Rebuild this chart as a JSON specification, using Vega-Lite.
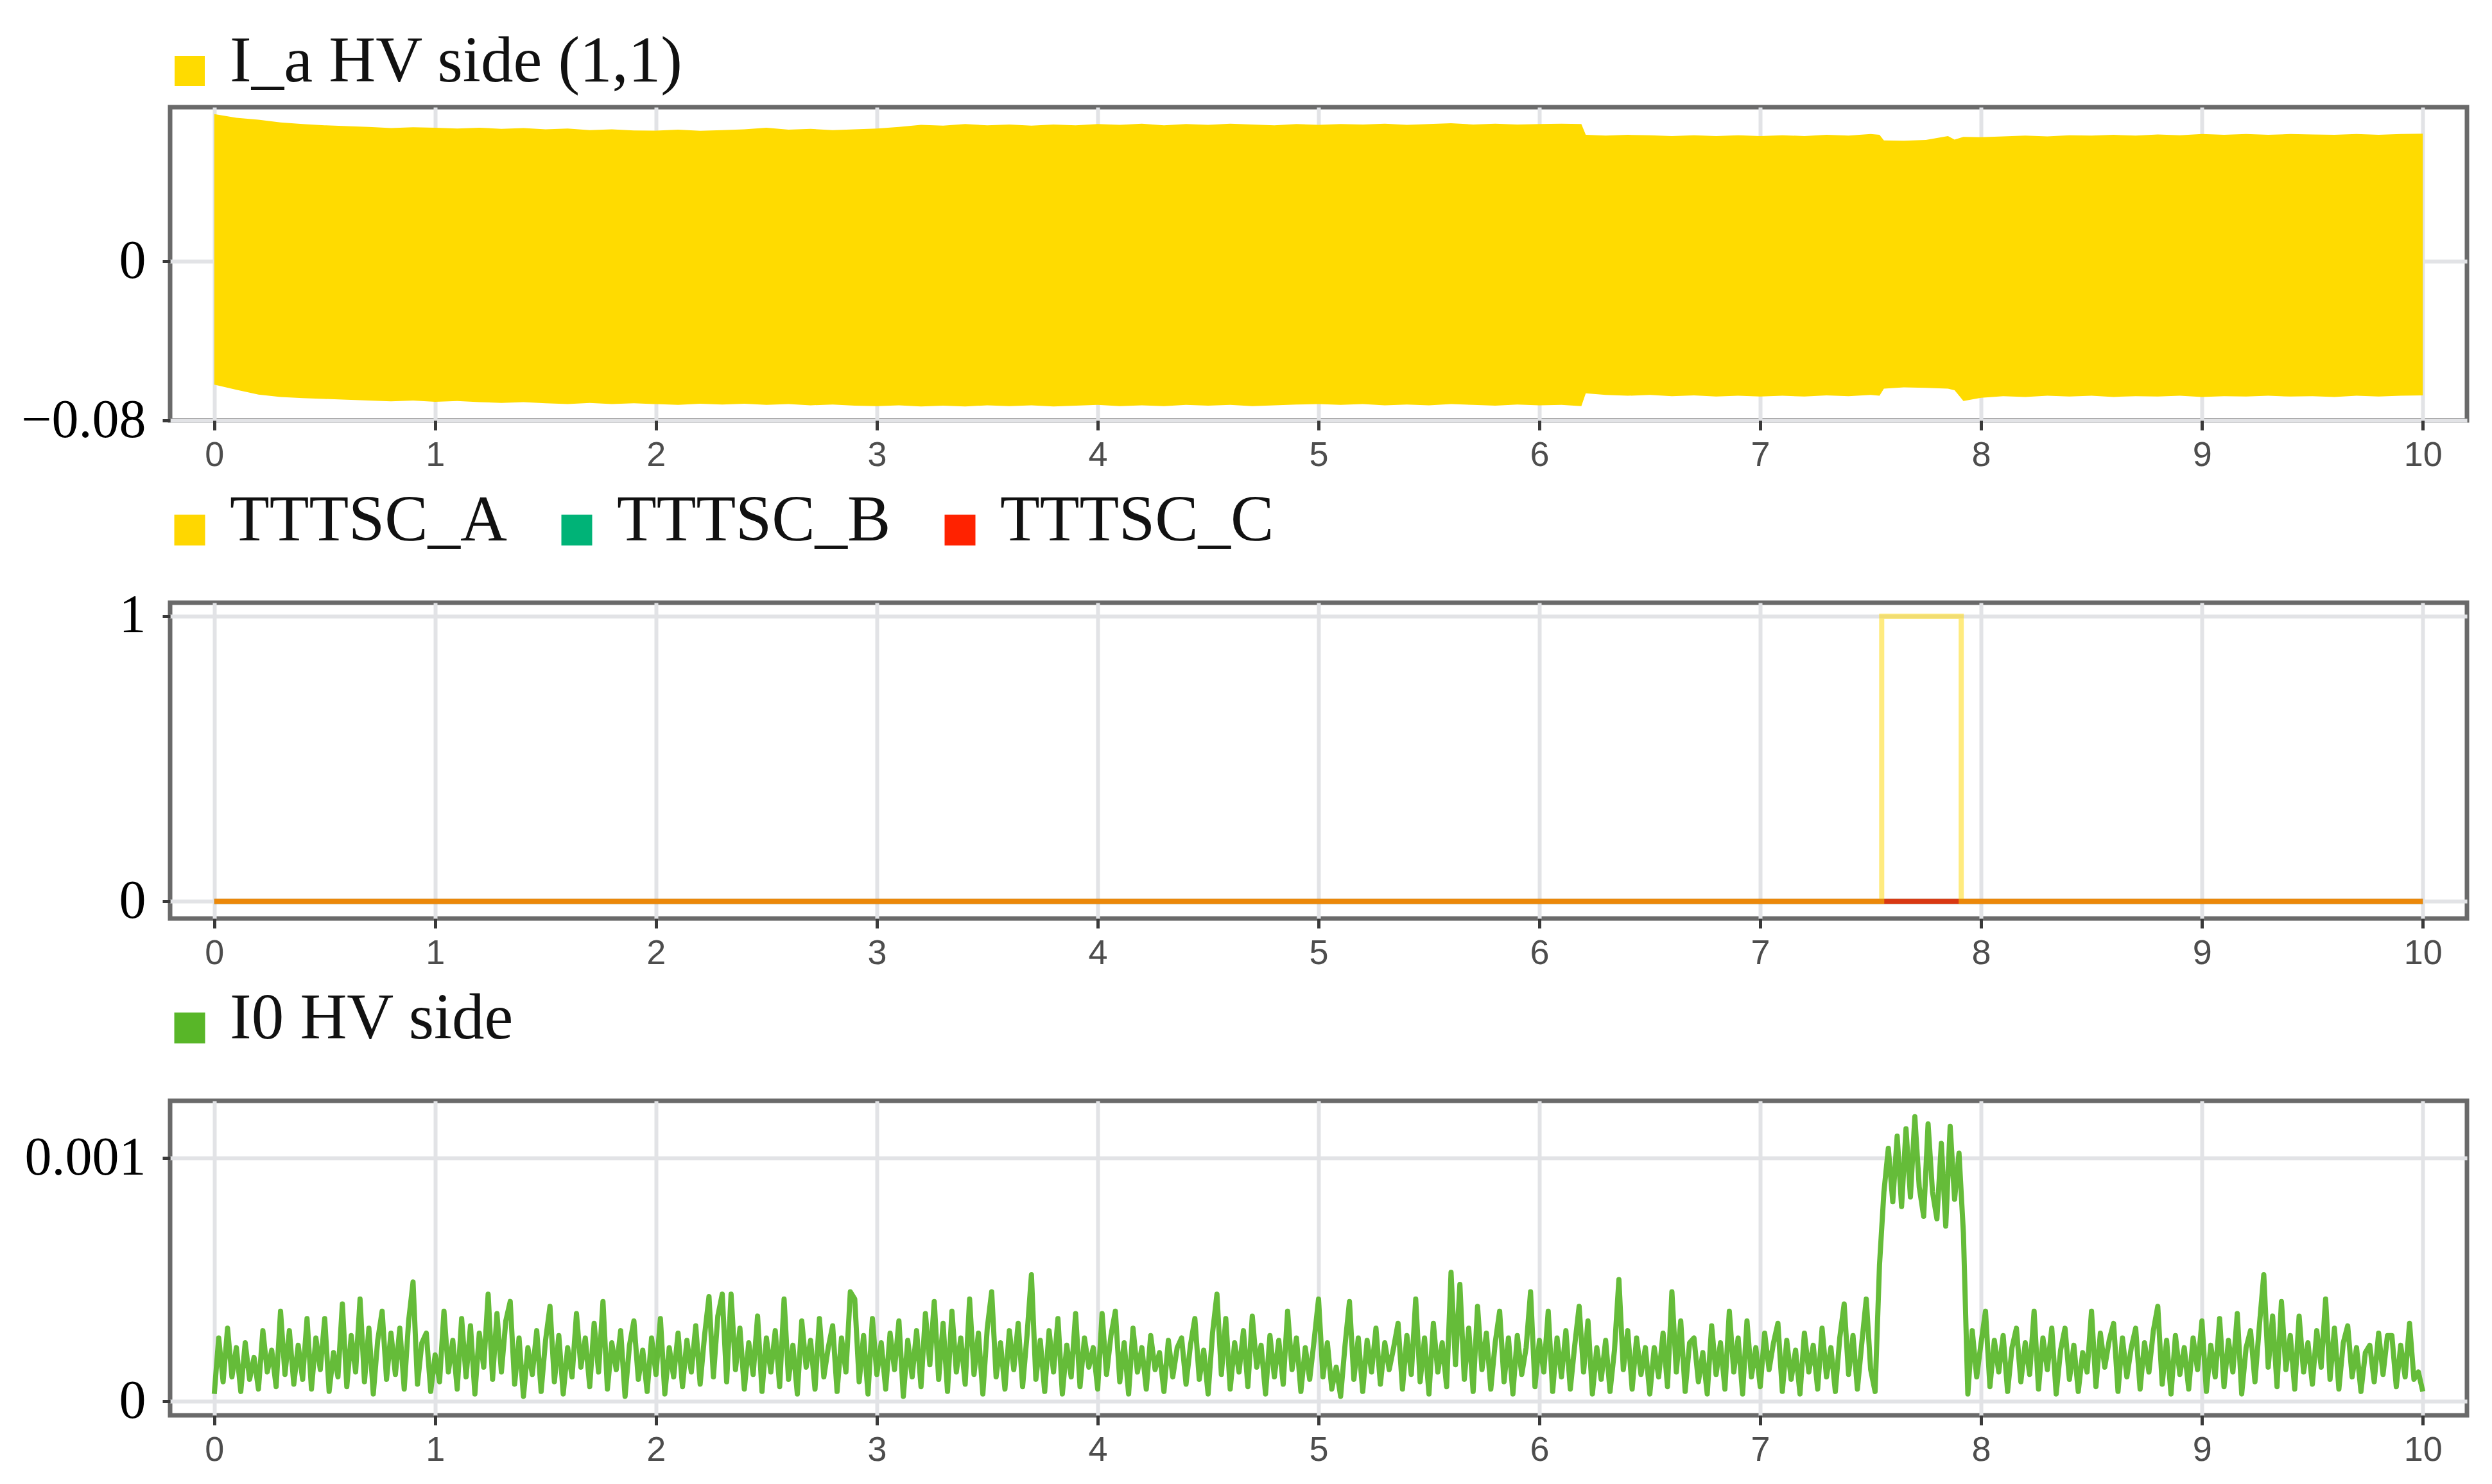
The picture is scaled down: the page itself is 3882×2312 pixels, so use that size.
{
"$schema": "https://vega.github.io/schema/vega-lite/v6.json",
"background": "white",
"padding": {"top": 56, "left": 29, "right": 10, "bottom": 10},
"bounds": "flush",
"spacing": 284,
"resolve": {"scale": {"color": "independent", "x": "independent", "y": "independent"}, "legend": {"color": "independent"}},
"config": {
  "view": {"stroke": "#6a6a6a", "strokeWidth": 7},
  "font": "Liberation Serif",
  "axis": {"grid": true, "gridColor": "#e2e3e6", "gridWidth": 6, "domain": false, "tickColor": "#3a3a3a", "tickWidth": 5, "title": null},
  "axisX": {"labelFont": "Liberation Sans", "labelFontSize": 54, "labelColor": "#4d4d4d", "tickSize": 15, "labelPadding": 12},
  "axisY": {"labelFont": "Liberation Serif", "labelFontSize": 84, "labelColor": "#000000", "tickSize": 12, "labelPadding": 26, "labelLimit": 1000}
},
"vconcat": [
{
  "width": 3578, "height": 488,
  "data": {"values": [
{"t":0,"hi":0.0740,"lo":-0.0620},{"t":0.1,"hi":0.0722,"lo":-0.0646},{"t":0.2,"hi":0.0712,"lo":-0.0670},{"t":0.3,"hi":0.0698,"lo":-0.0682},{"t":0.4,"hi":0.0690,"lo":-0.0688},{"t":0.5,"hi":0.0684,"lo":-0.0692},{"t":0.6,"hi":0.0680,"lo":-0.0696},{"t":0.7,"hi":0.0676,"lo":-0.0700},{"t":0.8,"hi":0.0670,"lo":-0.0704},{"t":0.9,"hi":0.0674,"lo":-0.0700},
{"t":1.0,"hi":0.0672,"lo":-0.0706},{"t":1.1,"hi":0.0668,"lo":-0.0702},{"t":1.2,"hi":0.0672,"lo":-0.0708},{"t":1.3,"hi":0.0666,"lo":-0.0712},{"t":1.4,"hi":0.0670,"lo":-0.0708},{"t":1.5,"hi":0.0664,"lo":-0.0714},{"t":1.6,"hi":0.0668,"lo":-0.0718},{"t":1.7,"hi":0.0660,"lo":-0.0712},{"t":1.8,"hi":0.0664,"lo":-0.0718},{"t":1.9,"hi":0.0658,"lo":-0.0714},
{"t":2.0,"hi":0.0657,"lo":-0.0718},{"t":2.1,"hi":0.0662,"lo":-0.0722},{"t":2.2,"hi":0.0656,"lo":-0.0716},{"t":2.3,"hi":0.0660,"lo":-0.0720},{"t":2.4,"hi":0.0664,"lo":-0.0716},{"t":2.5,"hi":0.0672,"lo":-0.0722},{"t":2.6,"hi":0.0662,"lo":-0.0718},{"t":2.7,"hi":0.0666,"lo":-0.0724},{"t":2.8,"hi":0.0660,"lo":-0.0720},{"t":2.9,"hi":0.0664,"lo":-0.0726},
{"t":3.0,"hi":0.0668,"lo":-0.0728},{"t":3.1,"hi":0.0676,"lo":-0.0724},{"t":3.2,"hi":0.0686,"lo":-0.0730},{"t":3.3,"hi":0.0682,"lo":-0.0726},{"t":3.4,"hi":0.0690,"lo":-0.0730},{"t":3.5,"hi":0.0684,"lo":-0.0724},{"t":3.6,"hi":0.0688,"lo":-0.0728},{"t":3.7,"hi":0.0682,"lo":-0.0724},{"t":3.8,"hi":0.0688,"lo":-0.0730},{"t":3.9,"hi":0.0684,"lo":-0.0726},
{"t":4.0,"hi":0.0690,"lo":-0.0722},{"t":4.1,"hi":0.0686,"lo":-0.0728},{"t":4.2,"hi":0.0692,"lo":-0.0724},{"t":4.3,"hi":0.0684,"lo":-0.0728},{"t":4.4,"hi":0.0690,"lo":-0.0722},{"t":4.5,"hi":0.0686,"lo":-0.0726},{"t":4.6,"hi":0.0692,"lo":-0.0722},{"t":4.7,"hi":0.0688,"lo":-0.0728},{"t":4.8,"hi":0.0684,"lo":-0.0724},{"t":4.9,"hi":0.0690,"lo":-0.0720},
{"t":5.0,"hi":0.0686,"lo":-0.0718},{"t":5.1,"hi":0.0690,"lo":-0.0722},{"t":5.2,"hi":0.0688,"lo":-0.0718},{"t":5.3,"hi":0.0692,"lo":-0.0724},{"t":5.4,"hi":0.0686,"lo":-0.0720},{"t":5.5,"hi":0.0690,"lo":-0.0724},{"t":5.6,"hi":0.0694,"lo":-0.0718},{"t":5.7,"hi":0.0688,"lo":-0.0722},{"t":5.8,"hi":0.0692,"lo":-0.0726},{"t":5.9,"hi":0.0688,"lo":-0.0720},
{"t":6.0,"hi":0.0690,"lo":-0.0724},{"t":6.1,"hi":0.0692,"lo":-0.0722},{"t":6.19,"hi":0.0690,"lo":-0.0728},{"t":6.21,"hi":0.0636,"lo":-0.0664},{"t":6.3,"hi":0.0632,"lo":-0.0672},{"t":6.4,"hi":0.0636,"lo":-0.0676},{"t":6.5,"hi":0.0634,"lo":-0.0672},{"t":6.6,"hi":0.0630,"lo":-0.0678},{"t":6.7,"hi":0.0634,"lo":-0.0674},{"t":6.8,"hi":0.0630,"lo":-0.0680},{"t":6.9,"hi":0.0634,"lo":-0.0676},
{"t":7.0,"hi":0.0630,"lo":-0.0680},{"t":7.1,"hi":0.0634,"lo":-0.0676},{"t":7.2,"hi":0.0630,"lo":-0.0680},{"t":7.3,"hi":0.0636,"lo":-0.0674},{"t":7.4,"hi":0.0632,"lo":-0.0678},{"t":7.5,"hi":0.0640,"lo":-0.0672},{"t":7.54,"hi":0.0636,"lo":-0.0676},{"t":7.56,"hi":0.0608,"lo":-0.0640},{"t":7.65,"hi":0.0606,"lo":-0.0634},{"t":7.75,"hi":0.0610,"lo":-0.0636},{"t":7.85,"hi":0.0630,"lo":-0.0640},{"t":7.88,"hi":0.0612,"lo":-0.0648},{"t":7.92,"hi":0.0626,"lo":-0.0702},
{"t":8.0,"hi":0.0624,"lo":-0.0686},{"t":8.1,"hi":0.0628,"lo":-0.0678},{"t":8.2,"hi":0.0632,"lo":-0.0682},{"t":8.3,"hi":0.0628,"lo":-0.0676},{"t":8.4,"hi":0.0634,"lo":-0.0680},{"t":8.5,"hi":0.0632,"lo":-0.0676},{"t":8.6,"hi":0.0636,"lo":-0.0682},{"t":8.7,"hi":0.0632,"lo":-0.0678},{"t":8.8,"hi":0.0638,"lo":-0.0680},{"t":8.9,"hi":0.0634,"lo":-0.0676},
{"t":9.0,"hi":0.0640,"lo":-0.0682},{"t":9.1,"hi":0.0636,"lo":-0.0678},{"t":9.2,"hi":0.0640,"lo":-0.0680},{"t":9.3,"hi":0.0636,"lo":-0.0676},{"t":9.4,"hi":0.0640,"lo":-0.0680},{"t":9.5,"hi":0.0638,"lo":-0.0678},{"t":9.6,"hi":0.0636,"lo":-0.0682},{"t":9.7,"hi":0.0640,"lo":-0.0676},{"t":9.8,"hi":0.0636,"lo":-0.0680},{"t":9.9,"hi":0.0640,"lo":-0.0676},{"t":10.0,"hi":0.0642,"lo":-0.0674}
  ]},
  "mark": {"type": "area", "interpolate": "linear"},
  "encoding": {
    "x": {"field": "t", "type": "quantitative", "scale": {"domain": [-0.2, 10.2], "nice": false, "zero": false}, "axis": {"values": [0,1,2,3,4,5,6,7,8,9,10], "format": "d"}},
    "y": {"field": "hi", "type": "quantitative", "scale": {"domain": [-0.08, 0.0775], "nice": false, "zero": false}, "axis": {"values": [-0.08, 0], "format": "~g"}},
    "y2": {"field": "lo"},
    "color": {"datum": "I_a HV side (1,1)", "type": "nominal", "scale": {"range": ["#FFDB00"]},
      "legend": {"title": null, "orient": "top", "offset": 20, "symbolType": "square", "symbolSize": 2209, "symbolStrokeWidth": 0, "symbolOpacity": 1, "symbolOffset": -20, "labelFont": "Liberation Serif", "labelFontSize": 101, "labelColor": "#111111", "labelOffset": 12, "labelLimit": 3000,
        "encode": {"labels": {"update": {"dy": {"value": -14}}}}}}
  }
},
{
  "width": 3578, "height": 492,
  "data": {"values": [
    {"t":0,"v":0,"s":"TTTSC_A"},{"t":7.55,"v":1,"s":"TTTSC_A"},{"t":7.91,"v":0,"s":"TTTSC_A"},{"t":10,"v":0,"s":"TTTSC_A"},
    {"t":0,"v":0,"s":"TTTSC_B"},{"t":10,"v":0,"s":"TTTSC_B"},
    {"t":0,"v":0,"s":"TTTSC_C"},{"t":10,"v":0,"s":"TTTSC_C"}
  ]},
  "encoding": {
    "x": {"field": "t", "type": "quantitative", "scale": {"domain": [-0.2, 10.2], "nice": false, "zero": false}, "axis": {"values": [0,1,2,3,4,5,6,7,8,9,10], "format": "d"}},
    "y": {"field": "v", "type": "quantitative", "scale": {"domain": [-0.06, 1.047], "nice": false, "zero": false}, "axis": {"values": [0, 1], "format": "~g"}},
    "color": {"field": "s", "type": "nominal", "scale": {"domain": ["TTTSC_A", "TTTSC_B", "TTTSC_C"], "range": ["#FFD700", "#00B377", "#FF2200"]},
      "legend": {"title": null, "orient": "top", "direction": "horizontal", "offset": 20, "symbolType": "square", "symbolSize": 4, "symbolStrokeWidth": 46, "symbolOpacity": 1, "symbolOffset": -20, "labelFont": "Liberation Serif", "labelFontSize": 101, "labelColor": "#111111", "labelOffset": 12, "labelLimit": 3000, "columnPadding": 14,
        "encode": {"labels": {"update": {"dy": {"value": -14}}}}}}
  },
  "layer": [
    {"transform": [{"filter": "datum.s === 'TTTSC_B'"}], "mark": {"type": "line", "interpolate": "step-after", "strokeWidth": 8}},
    {"transform": [{"filter": "datum.s === 'TTTSC_C'"}], "mark": {"type": "line", "interpolate": "step-after", "strokeWidth": 8, "opacity": 0.85}},
    {"transform": [{"filter": "datum.s === 'TTTSC_A'"}], "mark": {"type": "line", "interpolate": "step-after", "strokeWidth": 8, "opacity": 0.5}}
  ]
},
{
  "width": 3578, "height": 490,
  "data": {"values": [
{"t":0,"v":0.00003},{"t":0.02,"v":0.00026},{"t":0.04,"v":0.00008},{"t":0.06,"v":0.00030},{"t":0.08,"v":0.00010},{"t":0.1,"v":0.00022},{"t":0.12,"v":0.00004},{"t":0.14,"v":0.00024},{"t":0.16,"v":0.00009},{"t":0.18,"v":0.00018},
{"t":0.2,"v":0.00005},{"t":0.22,"v":0.00029},{"t":0.24,"v":0.00012},{"t":0.26,"v":0.00021},{"t":0.28,"v":0.00006},{"t":0.3,"v":0.00037},{"t":0.32,"v":0.00011},{"t":0.34,"v":0.00029},{"t":0.36,"v":0.00007},{"t":0.38,"v":0.00023},
{"t":0.4,"v":0.00009},{"t":0.42,"v":0.00034},{"t":0.44,"v":0.00005},{"t":0.46,"v":0.00026},{"t":0.48,"v":0.00013},{"t":0.5,"v":0.00034},{"t":0.52,"v":0.00004},{"t":0.54,"v":0.00020},{"t":0.56,"v":0.00010},{"t":0.58,"v":0.00040},
{"t":0.6,"v":0.00006},{"t":0.62,"v":0.00027},{"t":0.64,"v":0.00012},{"t":0.66,"v":0.00042},{"t":0.68,"v":0.00008},{"t":0.7,"v":0.00030},{"t":0.72,"v":0.00003},{"t":0.74,"v":0.00025},{"t":0.76,"v":0.00037},{"t":0.78,"v":0.00009},
{"t":0.8,"v":0.00028},{"t":0.82,"v":0.00011},{"t":0.84,"v":0.00030},{"t":0.86,"v":0.00005},{"t":0.88,"v":0.00033},{"t":0.9,"v":0.00049},{"t":0.92,"v":0.00007},{"t":0.94,"v":0.00024},{"t":0.96,"v":0.00028},{"t":0.98,"v":0.00004},
{"t":1.0,"v":0.00019},{"t":1.02,"v":0.00008},{"t":1.04,"v":0.00037},{"t":1.06,"v":0.00012},{"t":1.08,"v":0.00025},{"t":1.1,"v":0.00005},{"t":1.12,"v":0.00034},{"t":1.14,"v":0.00010},{"t":1.16,"v":0.00031},{"t":1.18,"v":0.00003},
{"t":1.2,"v":0.00028},{"t":1.22,"v":0.00014},{"t":1.24,"v":0.00044},{"t":1.26,"v":0.00009},{"t":1.28,"v":0.00036},{"t":1.3,"v":0.00012},{"t":1.32,"v":0.00033},{"t":1.34,"v":0.00041},{"t":1.36,"v":0.00007},{"t":1.38,"v":0.00026},
{"t":1.4,"v":0.00002},{"t":1.42,"v":0.00022},{"t":1.44,"v":0.00011},{"t":1.46,"v":0.00029},{"t":1.48,"v":0.00004},{"t":1.5,"v":0.00025},{"t":1.52,"v":0.00039},{"t":1.54,"v":0.00008},{"t":1.56,"v":0.00027},{"t":1.58,"v":0.00003},
{"t":1.6,"v":0.00022},{"t":1.62,"v":0.00010},{"t":1.64,"v":0.00036},{"t":1.66,"v":0.00014},{"t":1.68,"v":0.00026},{"t":1.7,"v":0.00006},{"t":1.72,"v":0.00032},{"t":1.74,"v":0.00012},{"t":1.76,"v":0.00041},{"t":1.78,"v":0.00005},
{"t":1.8,"v":0.00024},{"t":1.82,"v":0.00013},{"t":1.84,"v":0.00029},{"t":1.86,"v":0.00002},{"t":1.88,"v":0.00023},{"t":1.9,"v":0.00033},{"t":1.92,"v":0.00009},{"t":1.94,"v":0.00021},{"t":1.96,"v":0.00004},{"t":1.98,"v":0.00026},
{"t":2.0,"v":0.00011},{"t":2.02,"v":0.00034},{"t":2.04,"v":0.00003},{"t":2.06,"v":0.00022},{"t":2.08,"v":0.00010},{"t":2.1,"v":0.00028},{"t":2.12,"v":0.00006},{"t":2.14,"v":0.00025},{"t":2.16,"v":0.00012},{"t":2.18,"v":0.00031},
{"t":2.2,"v":0.00007},{"t":2.22,"v":0.00027},{"t":2.24,"v":0.00043},{"t":2.26,"v":0.00010},{"t":2.28,"v":0.00035},{"t":2.3,"v":0.00044},{"t":2.32,"v":0.00008},{"t":2.34,"v":0.00044},{"t":2.36,"v":0.00013},{"t":2.38,"v":0.00030},
{"t":2.4,"v":0.00005},{"t":2.42,"v":0.00024},{"t":2.44,"v":0.00011},{"t":2.46,"v":0.00035},{"t":2.48,"v":0.00004},{"t":2.5,"v":0.00026},{"t":2.52,"v":0.00012},{"t":2.54,"v":0.00029},{"t":2.56,"v":0.00006},{"t":2.58,"v":0.00042},
{"t":2.6,"v":0.00009},{"t":2.62,"v":0.00023},{"t":2.64,"v":0.00003},{"t":2.66,"v":0.00033},{"t":2.68,"v":0.00014},{"t":2.7,"v":0.00025},{"t":2.72,"v":0.00005},{"t":2.74,"v":0.00034},{"t":2.76,"v":0.00010},{"t":2.78,"v":0.00022},
{"t":2.8,"v":0.00031},{"t":2.82,"v":0.00004},{"t":2.84,"v":0.00026},{"t":2.86,"v":0.00012},{"t":2.88,"v":0.00045},{"t":2.9,"v":0.00042},{"t":2.92,"v":0.00008},{"t":2.94,"v":0.00027},{"t":2.96,"v":0.00003},{"t":2.98,"v":0.00034},
{"t":3.0,"v":0.00011},{"t":3.02,"v":0.00024},{"t":3.04,"v":0.00005},{"t":3.06,"v":0.00028},{"t":3.08,"v":0.00013},{"t":3.1,"v":0.00033},{"t":3.12,"v":0.00002},{"t":3.14,"v":0.00025},{"t":3.16,"v":0.00010},{"t":3.18,"v":0.00029},
{"t":3.2,"v":0.00006},{"t":3.22,"v":0.00036},{"t":3.24,"v":0.00015},{"t":3.26,"v":0.00041},{"t":3.28,"v":0.00009},{"t":3.3,"v":0.00032},{"t":3.32,"v":0.00004},{"t":3.34,"v":0.00037},{"t":3.36,"v":0.00012},{"t":3.38,"v":0.00026},
{"t":3.4,"v":0.00007},{"t":3.42,"v":0.00042},{"t":3.44,"v":0.00011},{"t":3.46,"v":0.00028},{"t":3.48,"v":0.00003},{"t":3.5,"v":0.00030},{"t":3.52,"v":0.00045},{"t":3.54,"v":0.00010},{"t":3.56,"v":0.00024},{"t":3.58,"v":0.00005},
{"t":3.6,"v":0.00029},{"t":3.62,"v":0.00013},{"t":3.64,"v":0.00032},{"t":3.66,"v":0.00006},{"t":3.68,"v":0.00027},{"t":3.7,"v":0.00052},{"t":3.72,"v":0.00009},{"t":3.74,"v":0.00025},{"t":3.76,"v":0.00004},{"t":3.78,"v":0.00029},
{"t":3.8,"v":0.00012},{"t":3.82,"v":0.00034},{"t":3.84,"v":0.00003},{"t":3.86,"v":0.00023},{"t":3.88,"v":0.00010},{"t":3.9,"v":0.00036},{"t":3.92,"v":0.00006},{"t":3.94,"v":0.00026},{"t":3.96,"v":0.00014},{"t":3.98,"v":0.00022},
{"t":4.0,"v":0.00005},{"t":4.02,"v":0.00036},{"t":4.04,"v":0.00011},{"t":4.06,"v":0.00027},{"t":4.08,"v":0.00037},{"t":4.1,"v":0.00008},{"t":4.12,"v":0.00024},{"t":4.14,"v":0.00003},{"t":4.16,"v":0.00030},{"t":4.18,"v":0.00012},
{"t":4.2,"v":0.00022},{"t":4.22,"v":0.00005},{"t":4.24,"v":0.00027},{"t":4.26,"v":0.00013},{"t":4.28,"v":0.00020},{"t":4.3,"v":0.00004},{"t":4.32,"v":0.00025},{"t":4.34,"v":0.00010},{"t":4.36,"v":0.00022},{"t":4.38,"v":0.00026},
{"t":4.4,"v":0.00007},{"t":4.42,"v":0.00023},{"t":4.44,"v":0.00034},{"t":4.46,"v":0.00009},{"t":4.48,"v":0.00021},{"t":4.5,"v":0.00003},{"t":4.52,"v":0.00028},{"t":4.54,"v":0.00044},{"t":4.56,"v":0.00011},{"t":4.58,"v":0.00034},
{"t":4.6,"v":0.00005},{"t":4.62,"v":0.00024},{"t":4.64,"v":0.00012},{"t":4.66,"v":0.00029},{"t":4.68,"v":0.00006},{"t":4.7,"v":0.00035},{"t":4.72,"v":0.00014},{"t":4.74,"v":0.00023},{"t":4.76,"v":0.00003},{"t":4.78,"v":0.00027},
{"t":4.8,"v":0.00010},{"t":4.82,"v":0.00025},{"t":4.84,"v":0.00007},{"t":4.86,"v":0.00037},{"t":4.88,"v":0.00013},{"t":4.9,"v":0.00026},{"t":4.92,"v":0.00004},{"t":4.94,"v":0.00022},{"t":4.96,"v":0.00009},{"t":4.98,"v":0.00025},
{"t":5.0,"v":0.00042},{"t":5.02,"v":0.00010},{"t":5.04,"v":0.00024},{"t":5.06,"v":0.00005},{"t":5.08,"v":0.00014},{"t":5.1,"v":0.00002},{"t":5.12,"v":0.00023},{"t":5.14,"v":0.00041},{"t":5.16,"v":0.00009},{"t":5.18,"v":0.00026},
{"t":5.2,"v":0.00004},{"t":5.22,"v":0.00025},{"t":5.24,"v":0.00012},{"t":5.26,"v":0.00030},{"t":5.28,"v":0.00007},{"t":5.3,"v":0.00024},{"t":5.32,"v":0.00013},{"t":5.34,"v":0.00022},{"t":5.36,"v":0.00032},{"t":5.38,"v":0.00005},
{"t":5.4,"v":0.00027},{"t":5.42,"v":0.00011},{"t":5.44,"v":0.00042},{"t":5.46,"v":0.00008},{"t":5.48,"v":0.00026},{"t":5.5,"v":0.00003},{"t":5.52,"v":0.00032},{"t":5.54,"v":0.00012},{"t":5.56,"v":0.00024},{"t":5.58,"v":0.00006},
{"t":5.6,"v":0.00053},{"t":5.62,"v":0.00015},{"t":5.64,"v":0.00048},{"t":5.66,"v":0.00009},{"t":5.68,"v":0.00030},{"t":5.7,"v":0.00004},{"t":5.72,"v":0.00039},{"t":5.74,"v":0.00013},{"t":5.76,"v":0.00028},{"t":5.78,"v":0.00005},
{"t":5.8,"v":0.00024},{"t":5.82,"v":0.00037},{"t":5.84,"v":0.00008},{"t":5.86,"v":0.00026},{"t":5.88,"v":0.00003},{"t":5.9,"v":0.00027},{"t":5.92,"v":0.00011},{"t":5.94,"v":0.00022},{"t":5.96,"v":0.00045},{"t":5.98,"v":0.00006},
{"t":6.0,"v":0.00025},{"t":6.02,"v":0.00012},{"t":6.04,"v":0.00037},{"t":6.06,"v":0.00004},{"t":6.08,"v":0.00026},{"t":6.1,"v":0.00010},{"t":6.12,"v":0.00029},{"t":6.14,"v":0.00005},{"t":6.16,"v":0.00023},{"t":6.18,"v":0.00039},
{"t":6.2,"v":0.00012},{"t":6.22,"v":0.00033},{"t":6.24,"v":0.00003},{"t":6.26,"v":0.00022},{"t":6.28,"v":0.00009},{"t":6.3,"v":0.00025},{"t":6.32,"v":0.00004},{"t":6.34,"v":0.00021},{"t":6.36,"v":0.00050},{"t":6.38,"v":0.00013},
{"t":6.4,"v":0.00029},{"t":6.42,"v":0.00005},{"t":6.44,"v":0.00026},{"t":6.46,"v":0.00011},{"t":6.48,"v":0.00022},{"t":6.5,"v":0.00003},{"t":6.52,"v":0.00022},{"t":6.54,"v":0.00010},{"t":6.56,"v":0.00028},{"t":6.58,"v":0.00006},
{"t":6.6,"v":0.00045},{"t":6.62,"v":0.00012},{"t":6.64,"v":0.00033},{"t":6.66,"v":0.00004},{"t":6.68,"v":0.00024},{"t":6.7,"v":0.00026},{"t":6.72,"v":0.00008},{"t":6.74,"v":0.00020},{"t":6.76,"v":0.00003},{"t":6.78,"v":0.00031},
{"t":6.8,"v":0.00011},{"t":6.82,"v":0.00024},{"t":6.84,"v":0.00005},{"t":6.86,"v":0.00037},{"t":6.88,"v":0.00012},{"t":6.9,"v":0.00026},{"t":6.92,"v":0.00003},{"t":6.94,"v":0.00033},{"t":6.96,"v":0.00010},{"t":6.98,"v":0.00022},
{"t":7.0,"v":0.00006},{"t":7.02,"v":0.00028},{"t":7.04,"v":0.00013},{"t":7.06,"v":0.00024},{"t":7.08,"v":0.00032},{"t":7.1,"v":0.00004},{"t":7.12,"v":0.00025},{"t":7.14,"v":0.00009},{"t":7.16,"v":0.00021},{"t":7.18,"v":0.00003},
{"t":7.2,"v":0.00028},{"t":7.22,"v":0.00012},{"t":7.24,"v":0.00023},{"t":7.26,"v":0.00005},{"t":7.28,"v":0.00030},{"t":7.3,"v":0.00010},{"t":7.32,"v":0.00022},{"t":7.34,"v":0.00004},{"t":7.36,"v":0.00026},{"t":7.38,"v":0.00040},
{"t":7.4,"v":0.00011},{"t":7.42,"v":0.00027},{"t":7.44,"v":0.00005},{"t":7.46,"v":0.00024},{"t":7.48,"v":0.00042},{"t":7.5,"v":0.00013},{"t":7.52,"v":0.00004},{"t":7.54,"v":0.00056},{"t":7.56,"v":0.00086},{"t":7.58,"v":0.00104},
{"t":7.6,"v":0.00082},{"t":7.62,"v":0.00109},{"t":7.64,"v":0.00080},{"t":7.66,"v":0.00112},{"t":7.68,"v":0.00084},{"t":7.7,"v":0.00117},{"t":7.72,"v":0.00088},{"t":7.74,"v":0.00076},{"t":7.76,"v":0.00114},{"t":7.78,"v":0.00086},
{"t":7.8,"v":0.00075},{"t":7.82,"v":0.00106},{"t":7.84,"v":0.00072},{"t":7.86,"v":0.00113},{"t":7.88,"v":0.00083},{"t":7.9,"v":0.00102},{"t":7.92,"v":0.00069},{"t":7.94,"v":0.00003},{"t":7.96,"v":0.00029},{"t":7.98,"v":0.00010},
{"t":8.0,"v":0.00024},{"t":8.02,"v":0.00037},{"t":8.04,"v":0.00006},{"t":8.06,"v":0.00025},{"t":8.08,"v":0.00012},{"t":8.1,"v":0.00027},{"t":8.12,"v":0.00004},{"t":8.14,"v":0.00022},{"t":8.16,"v":0.00030},{"t":8.18,"v":0.00008},
{"t":8.2,"v":0.00024},{"t":8.22,"v":0.00011},{"t":8.24,"v":0.00037},{"t":8.26,"v":0.00005},{"t":8.28,"v":0.00026},{"t":8.3,"v":0.00013},{"t":8.32,"v":0.00030},{"t":8.34,"v":0.00003},{"t":8.36,"v":0.00021},{"t":8.38,"v":0.00030},
{"t":8.4,"v":0.00009},{"t":8.42,"v":0.00023},{"t":8.44,"v":0.00004},{"t":8.46,"v":0.00020},{"t":8.48,"v":0.00012},{"t":8.5,"v":0.00037},{"t":8.52,"v":0.00006},{"t":8.54,"v":0.00028},{"t":8.56,"v":0.00014},{"t":8.58,"v":0.00025},
{"t":8.6,"v":0.00032},{"t":8.62,"v":0.00004},{"t":8.64,"v":0.00026},{"t":8.66,"v":0.00010},{"t":8.68,"v":0.00022},{"t":8.7,"v":0.00030},{"t":8.72,"v":0.00005},{"t":8.74,"v":0.00024},{"t":8.76,"v":0.00012},{"t":8.78,"v":0.00029},
{"t":8.8,"v":0.00039},{"t":8.82,"v":0.00007},{"t":8.84,"v":0.00025},{"t":8.86,"v":0.00003},{"t":8.88,"v":0.00027},{"t":8.9,"v":0.00011},{"t":8.92,"v":0.00022},{"t":8.94,"v":0.00005},{"t":8.96,"v":0.00026},{"t":8.98,"v":0.00013},
{"t":9.0,"v":0.00033},{"t":9.02,"v":0.00004},{"t":9.04,"v":0.00023},{"t":9.06,"v":0.00010},{"t":9.08,"v":0.00034},{"t":9.1,"v":0.00006},{"t":9.12,"v":0.00025},{"t":9.14,"v":0.00012},{"t":9.16,"v":0.00036},{"t":9.18,"v":0.00003},
{"t":9.2,"v":0.00022},{"t":9.22,"v":0.00029},{"t":9.24,"v":0.00008},{"t":9.26,"v":0.00031},{"t":9.28,"v":0.00052},{"t":9.3,"v":0.00014},{"t":9.32,"v":0.00035},{"t":9.34,"v":0.00006},{"t":9.36,"v":0.00041},{"t":9.38,"v":0.00013},
{"t":9.4,"v":0.00027},{"t":9.42,"v":0.00005},{"t":9.44,"v":0.00035},{"t":9.46,"v":0.00012},{"t":9.48,"v":0.00024},{"t":9.5,"v":0.00007},{"t":9.52,"v":0.00029},{"t":9.54,"v":0.00014},{"t":9.56,"v":0.00042},{"t":9.58,"v":0.00009},
{"t":9.6,"v":0.00030},{"t":9.62,"v":0.00005},{"t":9.64,"v":0.00024},{"t":9.66,"v":0.00031},{"t":9.68,"v":0.00010},{"t":9.7,"v":0.00022},{"t":9.72,"v":0.00004},{"t":9.74,"v":0.00020},{"t":9.76,"v":0.00023},{"t":9.78,"v":0.00008},
{"t":9.8,"v":0.00028},{"t":9.82,"v":0.00011},{"t":9.84,"v":0.00027},{"t":9.86,"v":0.00027},{"t":9.88,"v":0.00006},{"t":9.9,"v":0.00023},{"t":9.92,"v":0.00010},{"t":9.94,"v":0.00032},{"t":9.96,"v":0.00009},{"t":9.98,"v":0.00012},
{"t":10.0,"v":0.00004}
  ]},
  "mark": {"type": "line", "strokeWidth": 8, "strokeJoin": "round", "opacity": 0.92},
  "encoding": {
    "x": {"field": "t", "type": "quantitative", "scale": {"domain": [-0.2, 10.2], "nice": false, "zero": false}, "axis": {"values": [0,1,2,3,4,5,6,7,8,9,10], "format": "d"}},
    "y": {"field": "v", "type": "quantitative", "scale": {"domain": [-0.000058, 0.001235], "nice": false, "zero": false}, "axis": {"values": [0, 0.001], "format": "~g"}},
    "color": {"datum": "I0 HV side", "type": "nominal", "scale": {"range": ["#58B628"]},
      "legend": {"title": null, "orient": "top", "offset": 20, "symbolType": "square", "symbolSize": 4, "symbolStrokeWidth": 46, "symbolOpacity": 1, "symbolOffset": -20, "labelFont": "Liberation Serif", "labelFontSize": 101, "labelColor": "#111111", "labelOffset": 12, "labelLimit": 3000,
        "encode": {"labels": {"update": {"dy": {"value": -14}}}}}}
  }
}
]
}
